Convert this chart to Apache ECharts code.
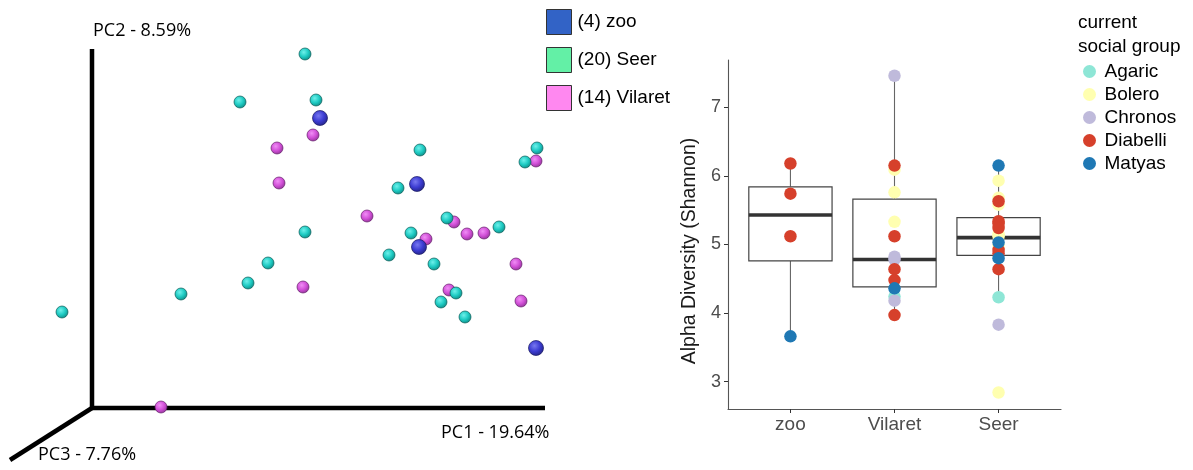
<!DOCTYPE html>
<html><head><meta charset="utf-8">
<script src="https://cdn.jsdelivr.net/npm/echarts@6/dist/echarts.min.js"></script>
<style>html,body{margin:0;padding:0;background:#fff}#c{width:1193px;height:470px}</style>
</head><body><div id="c"></div>
<script>
// ---------- PCoA (projected positions: PC1 to the right, PC2 up, origin at axes corner) ----------
const seerPC = [[213,354],[148,306],[224,308],[328,258],[445,260],[433,246],[306,220],[213,176],[176,145],[156,125],[89,114],[-30,96],[355,190],[319,175],[297,153],[342,144],[364,115],[349,106],[373,91],[407,181]];
const vilaretPC = [[221,273],[185,260],[187,225],[275,192],[362,186],[334,169],[375,174],[392,175],[424,144],[357,118],[211,121],[429,107],[444,247],[69,1]];
const zooPC = [[228,290],[325,224],[327,161],[444,60]];
const pcoaGroups = ['zoo','Seer','Vilaret'];
const pcoaCounts = [4,20,14];
const pcLabels = ['PC1 - 19.64%','PC2 - 8.59%','PC3 - 7.76%'];

// ---------- Alpha diversity ----------
const sites = ['zoo','Vilaret','Seer'];
const boxLow = [3.66, 3.97, 4.23];
const boxQ1 = [4.76, 4.38, 4.84];
const boxMed = [5.43, 4.78, 5.10];
const boxQ3 = [5.84, 5.66, 5.39];
const boxHigh = [6.18, 7.46, 6.15];
const yTicks = [3,4,5,6,7];
const socialGroups = ['Agaric','Bolero','Chronos','Diabelli','Matyas'];
const agaric = [['Vilaret',4.24],['Seer',4.23]];
const bolero = [['Vilaret',6.09],['Vilaret',5.76],['Vilaret',5.33],['Seer',5.93],['Seer',5.68],['Seer',5.58],['Seer',5.15],['Seer',5.12],['Seer',4.98],['Seer',2.84]];
const chronos = [['Vilaret',7.46],['Vilaret',4.82],['Vilaret',4.78],['Vilaret',4.18],['Seer',3.83]];
const diabelli = [['zoo',6.18],['zoo',5.74],['zoo',5.12],['Vilaret',6.15],['Vilaret',5.12],['Vilaret',4.64],['Vilaret',4.48],['Vilaret',3.97],['Seer',5.63],['Seer',5.34],['Seer',5.30],['Seer',5.24],['Seer',4.92],['Seer',4.87],['Seer',4.64]];
const matyas = [['zoo',3.66],['Vilaret',4.36],['Seer',6.15],['Seer',5.03],['Seer',4.80]];
const groupData = [agaric, bolero, chronos, diabelli, matyas];
const groupColors = ['#8ee6d6','#ffffb0','#bfbadb','#d6402b','#1f78b4'];

function sphere(light, mid, dark){
  return {type:'radial', x:0.4, y:0.36, r:0.72, colorStops:[
    {offset:0,color:light},{offset:0.5,color:mid},{offset:1,color:dark}]};
}
const pcoaStyles = {
  Seer: {color: sphere('#6ff0ea','#1ecbc3','#0d7f7a'), border:'#0b5c58', size:12, legend:'#63f0a6'},
  Vilaret: {color: sphere('#f08ef5','#d250d8','#86308c'), border:'#64206a', size:12, legend:'#ff88f0'},
  zoo: {color: sphere('#7878f0','#3c3cd2','#20207a'), border:'#181860', size:15, legend:'#3263c6'}
};
const pcoaData = {Seer: seerPC, Vilaret: vilaretPC, zoo: zooPC};

const chart = echarts.init(document.getElementById('c'), null, {renderer:'canvas'});

const series = [];
// thick PCoA axes
series.push({type:'line', xAxisIndex:0, yAxisIndex:0, data:[[453,0],[0,0],[0,359]], symbol:'none', silent:true,
  lineStyle:{color:'#000', width:4.5, join:'miter'}, z:1});
series.push({type:'line', xAxisIndex:0, yAxisIndex:0, data:[[0,0],[-82,-52]], symbol:'none', silent:true,
  lineStyle:{color:'#000', width:4.5}, z:1});
['Vilaret','Seer','zoo'].forEach(g => {
  const st = pcoaStyles[g];
  series.push({type:'scatter', name:g, xAxisIndex:0, yAxisIndex:0, data:pcoaData[g], symbolSize:st.size,
    itemStyle:{color:st.color, borderColor:st.border, borderWidth:0.7, opacity:1}, z:3});
});

// boxes
series.push({type:'custom', xAxisIndex:1, yAxisIndex:1, silent:true, z:2,
  data: sites.map((s,i)=>[i+1, boxLow[i], boxQ1[i], boxMed[i], boxQ3[i], boxHigh[i]]),
  encode:{x:0, y:[1,2,3,4,5]},
  renderItem(params, api){
    const x = api.value(0);
    const hw = api.size([0.4, 0])[0];
    const c = v => api.coord([x, v]);
    const lo = c(api.value(1)), q1 = c(api.value(2)), md = c(api.value(3)), q3 = c(api.value(4)), hi = c(api.value(5));
    return {type:'group', children:[
      {type:'line', shape:{x1:lo[0],y1:lo[1],x2:q1[0],y2:q1[1]}, style:{stroke:'#666',lineWidth:1.1}},
      {type:'line', shape:{x1:q3[0],y1:q3[1],x2:hi[0],y2:hi[1]}, style:{stroke:'#666',lineWidth:1.1}},
      {type:'rect', shape:{x:q3[0]-hw, y:q3[1], width:2*hw, height:q1[1]-q3[1]}, style:{fill:'#fff', stroke:'#444', lineWidth:1.2}},
      {type:'line', shape:{x1:md[0]-hw,y1:md[1],x2:md[0]+hw,y2:md[1]}, style:{stroke:'#333',lineWidth:3.6}}
    ]};
  }
});
socialGroups.forEach((g,i) => {
  series.push({type:'scatter', name:g, xAxisIndex:1, yAxisIndex:1, symbolSize:12.5, z:4,
    data: groupData[i].map(d => [sites.indexOf(d[0])+1, d[1]]),
    itemStyle:{color:groupColors[i], opacity:1}});
});

const option = {
  backgroundColor:'#fff',
  animation:false,
  grid:[
    {left:0, top:0, width:560, height:470},
    {left:728, top:60, width:333, height:349}
  ],
  xAxis:[
    {gridIndex:0, type:'value', min:-92, max:468, show:false},
    {gridIndex:1, type:'value', min:0.4, max:3.6, splitLine:{show:false},
      axisLine:{lineStyle:{color:'#555', width:1.1}},
      axisTick:{show:true, customValues:[1,2,3], length:4, lineStyle:{color:'#333'}},
      axisLabel:{customValues:[1,2,3], formatter:v => sites[Math.round(v)-1], color:'#4d4d4d', fontSize:19, margin:6, fontFamily:'Liberation Sans'}}
  ],
  yAxis:[
    {gridIndex:0, type:'value', min:-62, max:408, show:false},
    {gridIndex:1, type:'value', min:2.6, max:7.69, splitLine:{show:false},
      axisLine:{show:true, lineStyle:{color:'#555', width:1.1}},
      axisTick:{show:true, customValues:yTicks, length:4, lineStyle:{color:'#333'}},
      axisLabel:{customValues:yTicks, color:'#4d4d4d', fontSize:18, margin:7, fontFamily:'Liberation Sans'}}
  ],
  legend:[
    {left:541, top:4, orient:'vertical', icon:'rect', itemWidth:25, itemHeight:25, itemGap:12,
      selectedMode:false,
      data: pcoaGroups.map(g => ({name:g, itemStyle:{color:pcoaStyles[g].legend, borderColor:'#333', borderWidth:1}})),
      formatter: n => '(' + pcoaCounts[pcoaGroups.indexOf(n)] + ') ' + n,
      textStyle:{fontSize:19, color:'#000', fontFamily:'Liberation Sans', padding:[0,0,0,1]}},
    {left:1078, top:57, orient:'vertical', icon:'circle', itemWidth:20, itemHeight:13, itemGap:4,
      selectedMode:false,
      data: socialGroups,
      textStyle:{fontSize:19, color:'#000', fontFamily:'Liberation Sans'}}
  ],
  graphic:[
    {type:'text', left:93, top:22, style:{text:pcLabels[1], fontSize:18, fontFamily:'Open Sans', fill:'#000'}},
    {type:'text', left:441, top:424, style:{text:pcLabels[0], fontSize:18, fontFamily:'Open Sans', fill:'#000'}},
    {type:'text', left:38, top:446, style:{text:pcLabels[2], fontSize:18, fontFamily:'Open Sans', fill:'#000'}},
    {type:'text', left:1078, top:11, style:{text:'current\nsocial group', fontSize:19, lineHeight:24, fontFamily:'Liberation Sans', fill:'#000'}},
    {type:'text', x:690, y:251, rotation:Math.PI/2, style:{text:'Alpha Diversity (Shannon)', fontSize:19.5, fontFamily:'Liberation Sans', fill:'#1a1a1a', align:'center', verticalAlign:'middle'}}
  ],
  series
};
chart.setOption(option);
</script>
</body></html>
